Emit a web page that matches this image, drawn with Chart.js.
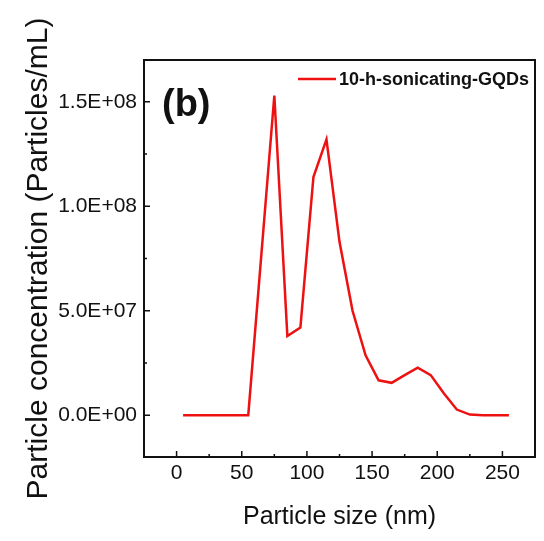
<!DOCTYPE html>
<html>
<head>
<meta charset="utf-8">
<script src="https://cdn.jsdelivr.net/npm/chart.js@4"></script>
<style>
    html, body { margin: 0; padding: 0; background: #fff; }
    #wrap { width: 544px; height: 541px; }
</style>
</head>
<body>
<div id="wrap"><canvas id="sizeChart"></canvas></div>
<script>
// Data
const seriesLabel = '10-h-sonicating-GQDs';
const particleSize = [5, 15, 25, 35, 45, 55, 75, 85, 95, 105, 115, 125, 135, 145, 155, 165, 175, 185, 195, 205, 215, 225, 235, 245, 255];
const concentration = [0, 0, 0, 0, 0, 0, 1.53e8, 3.79e7, 4.2e7, 1.14e8, 1.32e8, 8.3e7, 5.0e7, 2.87e7, 1.67e7, 1.55e7, 1.92e7, 2.28e7, 1.92e7, 1.05e7, 2.7e6, 3e5, 0, 0, 0];
const xTicks = [0, 50, 100, 150, 200, 250];
const xMinorTicks = [25, 75, 125, 175, 225];
const yTicks = [0, 5e7, 1e8, 1.5e8];
const yMinorTicks = [2.5e7, 7.5e7, 1.25e8];

const lineColor = '#ee1111';
const textColor = '#111';
const fontFamily = '"Liberation Sans", Arial, sans-serif';

// 1.5E+08 style labels
function sciLabel(v) {
    if (v === 0) return '0.0E+00';
    const exp = Math.floor(Math.log10(Math.abs(v)));
    const mant = (v / Math.pow(10, exp)).toFixed(1);
    return mant + 'E' + (exp < 0 ? '-' : '+') + String(Math.abs(exp)).padStart(2, '0');
}

// Frame, inward ticks, panel letter and legend inside the plot
const framePlugin = {
    id: 'frame',
    afterDraw(chart) {
        const ctx = chart.ctx;
        const a = chart.chartArea;
        const xs = chart.scales.x;
        const ys = chart.scales.y;
        ctx.save();
        ctx.strokeStyle = '#111';
        ctx.lineWidth = 2;
        ctx.strokeRect(a.left, a.top, a.right - a.left, a.bottom - a.top);

        ctx.lineWidth = 1.5;
        ctx.beginPath();
        xTicks.forEach(v => {
            const px = xs.getPixelForValue(v);
            ctx.moveTo(px, a.bottom); ctx.lineTo(px, a.bottom - 6);
        });
        xMinorTicks.forEach(v => {
            const px = xs.getPixelForValue(v);
            ctx.moveTo(px, a.bottom); ctx.lineTo(px, a.bottom - 3);
        });
        yTicks.forEach(v => {
            const py = ys.getPixelForValue(v);
            ctx.moveTo(a.left, py); ctx.lineTo(a.left + 6, py);
        });
        yMinorTicks.forEach(v => {
            const py = ys.getPixelForValue(v);
            ctx.moveTo(a.left, py); ctx.lineTo(a.left + 3, py);
        });
        ctx.stroke();

        // panel letter
        ctx.fillStyle = textColor;
        ctx.font = 'bold 38px ' + fontFamily;
        ctx.textAlign = 'left';
        ctx.textBaseline = 'alphabetic';
        ctx.fillText('(b)', a.left + 18, a.top + 56);

        // legend
        const ds = chart.data.datasets[0];
        ctx.strokeStyle = ds.borderColor;
        ctx.lineWidth = 2.5;
        ctx.beginPath();
        ctx.moveTo(a.left + 154, a.top + 19);
        ctx.lineTo(a.left + 192, a.top + 19);
        ctx.stroke();
        ctx.font = 'bold 18px ' + fontFamily;
        ctx.textBaseline = 'middle';
        ctx.fillText(ds.label, a.left + 195, a.top + 20);
        ctx.restore();
    }
};

const sizeChart = new Chart(
    document.getElementById('sizeChart'),
    {
        type: 'line',
        data: {
            datasets: [{
                label: seriesLabel,
                data: particleSize.map((s, i) => ({ x: s, y: concentration[i] })),
                borderColor: lineColor,
                borderWidth: 2.5,
                pointRadius: 0,
                tension: 0,
                fill: false
            }]
        },
        options: {
            responsive: true,
            maintainAspectRatio: false,
            animation: false,
            layout: {
                padding: { top: 60, right: 9, left: 0, bottom: 0 }
            },
            plugins: {
                legend: { display: false },
                tooltip: { enabled: false }
            },
            scales: {
                x: {
                    type: 'linear',
                    min: -25,
                    max: 275,
                    afterBuildTicks: (scale) => { scale.ticks = xTicks.map(v => ({ value: v })); },
                    afterFit: (scale) => { scale.height = 84; },
                    grid: { display: false, drawTicks: false },
                    border: { display: false },
                    ticks: {
                        color: textColor,
                        padding: 4,
                        maxRotation: 0,
                        font: { family: fontFamily, size: 21 }
                    },
                    title: {
                        display: true,
                        text: 'Particle size (nm)',
                        color: textColor,
                        padding: { top: 0, bottom: 9 },
                        font: { family: fontFamily, size: 25 }
                    }
                },
                y: {
                    min: -2e7,
                    max: 1.7e8,
                    afterBuildTicks: (scale) => { scale.ticks = yTicks.map(v => ({ value: v })); },
                    afterFit: (scale) => { scale.width = 144; },
                    grid: { display: false, drawTicks: false },
                    border: { display: false },
                    ticks: {
                        color: textColor,
                        padding: 7,
                        font: { family: fontFamily, size: 21 },
                        callback: (v) => sciLabel(v)
                    },
                    title: {
                        display: true,
                        text: 'Particle concentration (Particles/mL)',
                        color: textColor,
                        padding: { top: 21, bottom: 0 },
                        font: { family: fontFamily, size: 30 }
                    }
                }
            }
        },
        plugins: [framePlugin]
    }
);
</script>
</body>
</html>
